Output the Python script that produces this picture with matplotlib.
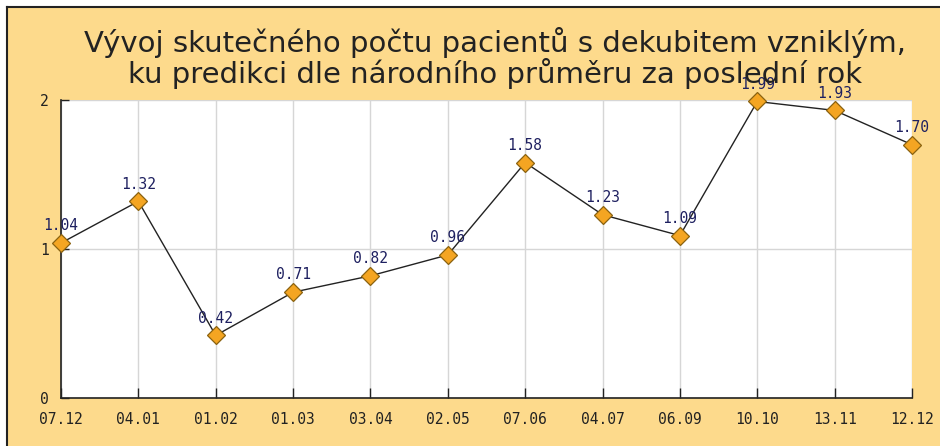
import numpy as np
import matplotlib.pyplot as plt
from matplotlib.patches import Rectangle
from matplotlib.lines import Line2D

dates = ["07.12", "04.01", "01.02", "01.03", "03.04", "02.05",
         "07.06", "04.07", "06.09", "10.10", "13.11", "12.12"]
values = [1.04, 1.32, 0.42, 0.71, 0.82, 0.96, 1.58, 1.23, 1.09, 1.99, 1.93, 1.70]
value_labels = ["1.04", "1.32", "0.42", "0.71", "0.82", "0.96",
                "1.58", "1.23", "1.09", "1.99", "1.93", "1.70"]
title = "Vývoj skutečného počtu pacientů s dekubitem vzniklým,\nku predikci dle národního průměru za poslední rok"

W, H = 940, 446
fig = plt.figure(figsize=(W / 100, H / 100), dpi=100, facecolor="white")

# yellow card with black frame on top/left (cropped screenshot look)
fig.patches.append(Rectangle((7 / W, 0), 1, 1 - 7 / H, transform=fig.transFigure,
                             facecolor="#FDDA8C", edgecolor="none", zorder=-5))
fig.lines.append(Line2D([7 / W, 7 / W], [0, 1 - 7 / H], transform=fig.transFigure,
                        color="#222222", lw=1.5, zorder=-4))
fig.lines.append(Line2D([7 / W, 1], [1 - 7 / H, 1 - 7 / H], transform=fig.transFigure,
                        color="#222222", lw=1.5, zorder=-4))

# plot area: x 61..912, y 100..398 (pixels)
ax = fig.add_axes([61 / W, 1 - 398 / H, (912 - 61) / W, (398 - 100) / H])
ax.set_zorder(2)
ax.set_facecolor("white")

x = np.arange(len(dates))
ax.plot(x, values, color="#222222", lw=1.0, zorder=3, clip_on=False)
ax.plot(x, values, linestyle="none", marker="D", markersize=9,
        markerfacecolor="#F4A522", markeredgecolor="#8A6210", markeredgewidth=0.9,
        zorder=4, clip_on=False)

for xi, v, lab in zip(x, values, value_labels):
    ax.annotate(lab, (xi, v), xytext=(0, 7), textcoords="offset points",
                ha="center", va="bottom", fontsize=10.5, color="#1E2060",
                family="DejaVu Sans Mono", zorder=5, annotation_clip=False)

ax.set_xlim(0, len(dates) - 1)
ax.set_ylim(0, 2)
ax.set_xticks(x)
ax.set_xticklabels(dates, family="DejaVu Sans Mono", fontsize=10.5, color="#222222")
ax.set_yticks([0, 1, 2])
ax.set_yticklabels(["0", "1", "2"], family="DejaVu Sans Mono", fontsize=10.5, color="#222222")
ax.tick_params(axis="x", direction="in", length=7, width=1, color="#222222", pad=10)
ax.tick_params(axis="y", direction="in", length=6, width=1, color="#222222", pad=9)

ax.grid(True, color="#D6D6D6", lw=1)
ax.set_axisbelow(True)
for s in ["top", "right"]:
    ax.spines[s].set_visible(False)
for s in ["left", "bottom"]:
    ax.spines[s].set_color("#222222")
    ax.spines[s].set_linewidth(1.2)

# title sits on top of the plot, covering the 1.99 label like in the original
title_ax = fig.add_axes([0, 0, 1, 1], facecolor="none")
title_ax.set_zorder(3)
title_ax.axis("off")
title_ax.text(0.527, 1 - 58 / H, title, ha="center", va="center", fontsize=21,
              color="#222222", family="DejaVu Sans", linespacing=1.0)

fig.savefig("out.png", dpi=100, facecolor=fig.get_facecolor())
